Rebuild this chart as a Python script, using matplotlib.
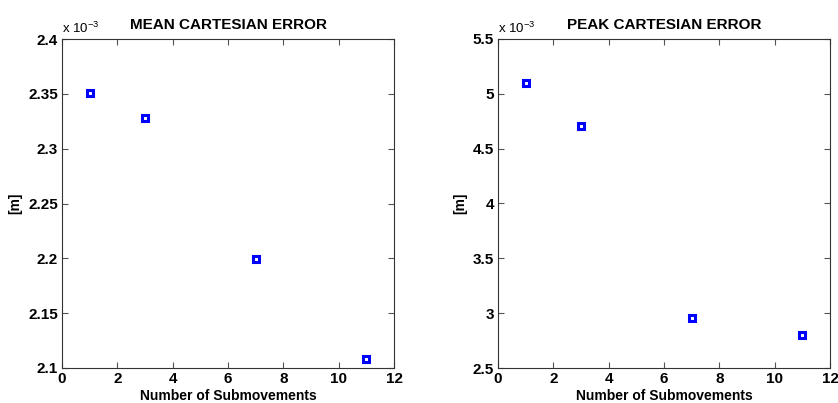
import numpy as np
import matplotlib.pyplot as plt
from matplotlib.ticker import FuncFormatter

plt.rcParams['font.family'] = ['Liberation Sans', 'DejaVu Sans']
plt.rcParams['font.weight'] = 'bold'

submovements = [1, 3, 7, 11]
mean_error = [2.351e-3, 2.328e-3, 2.199e-3, 2.108e-3]
peak_error = [5.10e-3, 4.71e-3, 2.955e-3, 2.80e-3]

fig = plt.figure(figsize=(8.38, 4.03), dpi=100)
ax1 = fig.add_axes([62 / 838, 1 - 368 / 403, 332 / 838, 329 / 403])
ax2 = fig.add_axes([498 / 838, 1 - 368 / 403, 332 / 838, 329 / 403])

panels = [
    (ax1, mean_error, 'MEAN CARTESIAN ERROR', (2.1e-3, 2.4e-3), np.arange(2.1, 2.401, 0.05)),
    (ax2, peak_error, 'PEAK CARTESIAN ERROR', (2.5e-3, 5.5e-3), np.arange(2.5, 5.51, 0.5)),
]

fmt = FuncFormatter(lambda v, p: ('%.3f' % (v * 1e3)).rstrip('0').rstrip('.'))

for ax, vals, title, ylim, yt in panels:
    ax.plot(submovements, vals, linestyle='none', marker='s', markersize=5,
            markerfacecolor='none', markeredgecolor='#0000ff', markeredgewidth=2.2)
    ax.set_xlim(0, 12)
    ax.set_ylim(*ylim)
    ax.set_xticks(range(0, 13, 2))
    ax.set_yticks(yt * 1e-3)
    ax.yaxis.set_major_formatter(fmt)
    ax.tick_params(direction='in', top=True, right=True, length=4, width=0.8,
                   labelsize=11, pad=3, color='#555555')
    for s in ax.spines.values():
        s.set_linewidth(0.8)
        s.set_color('#333333')
    ax.set_title(title, fontsize=11, fontweight='bold', pad=7)
    ax.set_xlabel('Number of Submovements', fontsize=10, fontweight='bold', labelpad=2)
    ax.set_ylabel('[m]', fontsize=10, fontweight='bold')
    ax.text(0.0, 1.008, 'x 10$^{\\mathregular{-3}}$', transform=ax.transAxes,
            fontsize=9.5, fontweight='normal', ha='left', va='bottom')

fig.savefig('out.png', dpi=100)
